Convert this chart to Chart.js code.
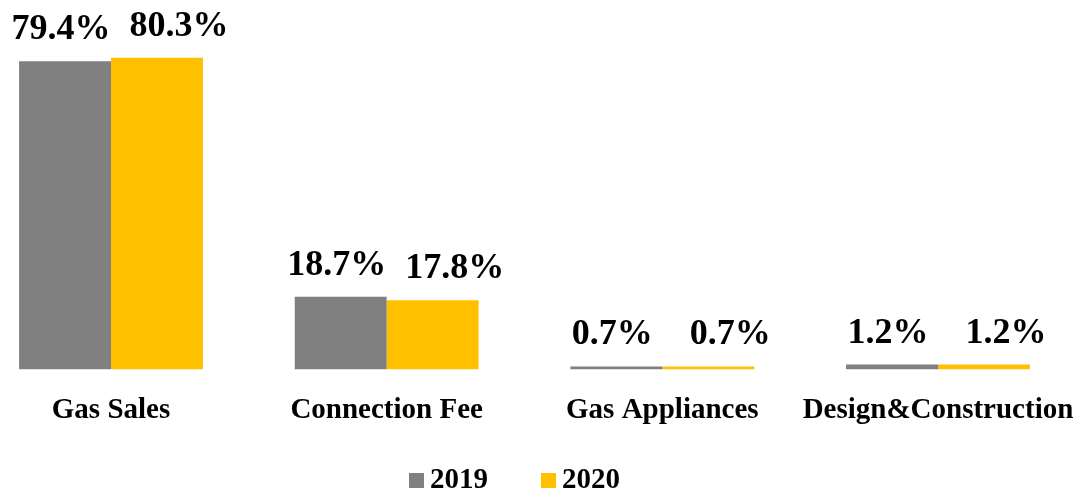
<!DOCTYPE html>
<html>
<head>
<meta charset="utf-8">
<script src="https://cdn.jsdelivr.net/npm/chart.js@4/dist/chart.umd.min.js"></script>
<style>
  html, body { margin: 0; padding: 0; background: #fff; }
  #wrap { width: 1084px; height: 491px; }
</style>
</head>
<body>
<div id="wrap"><canvas id="revenueChart"></canvas></div>
<script>
const categories = ['Gas Sales', 'Connection Fee', 'Gas Appliances', 'Design&Construction'];
const share2019 = [79.4, 18.7, 0.7, 1.2];
const share2020 = [80.3, 17.8, 0.7, 1.2];
const seriesNames = ['2019', '2020'];
const seriesColors = ['#808080', '#FFC000'];

const serif = '"Liberation Serif", "Times New Roman", serif';

// value labels above every bar (the 2020 ones sit a bit to the right, as in the original)
const labelNudge = [-4, 22];
const barLabels = {
    id: 'barLabels',
    afterDatasetsDraw(chart) {
        const ctx = chart.ctx;
        ctx.save();
        ctx.font = 'bold 36px ' + serif;
        ctx.fillStyle = '#000';
        ctx.textAlign = 'center';
        ctx.textBaseline = 'alphabetic';
        chart.data.datasets.forEach((ds, i) => {
            chart.getDatasetMeta(i).data.forEach((bar, j) => {
                ctx.fillText(ds.data[j].toFixed(1) + '%', bar.x + labelNudge[i], bar.y - 22);
            });
        });
        ctx.restore();
    }
};

// legend drawn by hand so the spacing matches the original
const squareLegend = {
    id: 'squareLegend',
    afterDraw(chart) {
        const ctx = chart.ctx;
        ctx.save();
        ctx.font = 'bold 29px ' + serif;
        ctx.textBaseline = 'alphabetic';
        ctx.textAlign = 'left';
        let x = 409;
        const baseY = 488;
        chart.data.datasets.forEach(ds => {
            ctx.fillStyle = ds.backgroundColor;
            ctx.fillRect(x, baseY - 15, 15, 15);
            ctx.fillStyle = '#000';
            ctx.fillText(ds.label, x + 21, baseY);
            x += 132;
        });
        ctx.restore();
    }
};

const ctxRevenue = document.getElementById('revenueChart').getContext('2d');
new Chart(ctxRevenue, {
    type: 'bar',
    data: {
        labels: categories,
        datasets: [{
            label: seriesNames[0],
            data: share2019,
            backgroundColor: seriesColors[0],
            clip: false
        }, {
            label: seriesNames[1],
            data: share2020,
            backgroundColor: seriesColors[1],
            clip: false
        }]
    },
    options: {
        responsive: true,
        maintainAspectRatio: false,
        animation: false,
        categoryPercentage: 0.667,
        barPercentage: 1.0,
        layout: {
            padding: { left: 111, right: 146, top: 20, bottom: 39 }
        },
        plugins: {
            legend: { display: false },
            tooltip: { enabled: false }
        },
        scales: {
            x: {
                offset: false,
                afterFit(scale) {
                    scale.paddingLeft = 0;
                    scale.paddingRight = 0;
                },
                grid: { display: false, drawTicks: false },
                border: { display: false },
                ticks: {
                    autoSkip: false,
                    maxRotation: 0,
                    padding: 24,
                    color: '#000',
                    font: { family: serif, size: 29, weight: 'bold' }
                }
            },
            y: {
                display: false,
                min: 0,
                max: 90
            }
        }
    },
    plugins: [barLabels, squareLegend]
});
</script>
</body>
</html>
